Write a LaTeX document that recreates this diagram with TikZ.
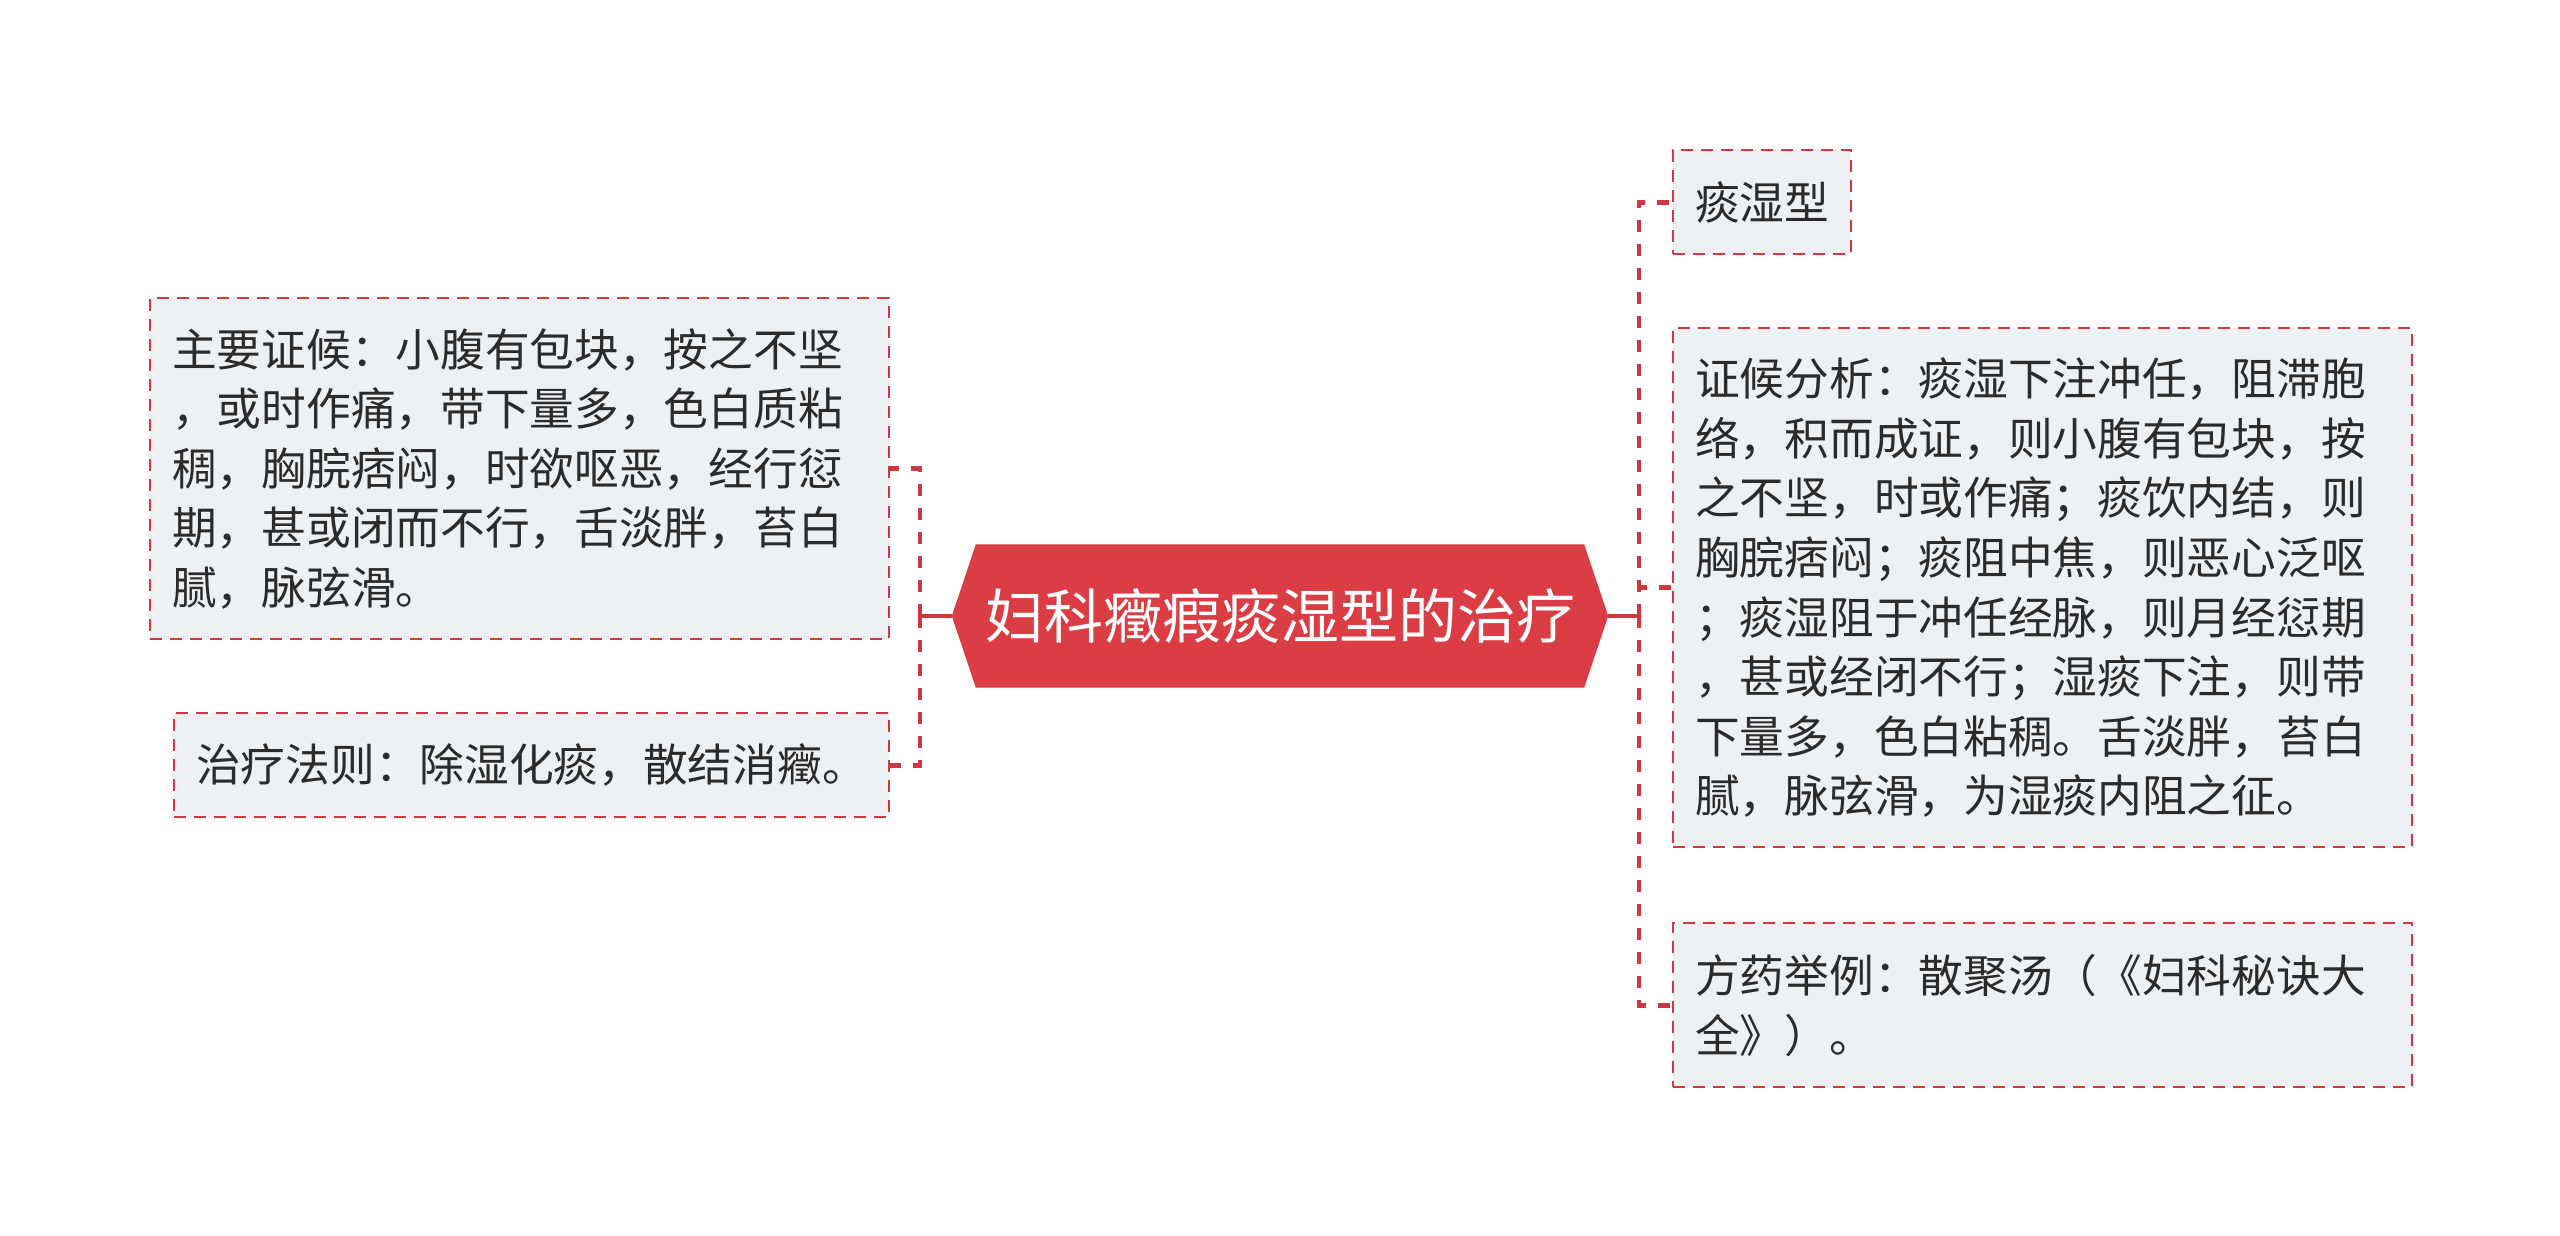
\documentclass[tikz,border=0pt]{standalone}
\usepackage{fontspec}
\newfontfamily\cjk{Noto Sans CJK SC}
\usetikzlibrary{calc}
\definecolor{mainred}{HTML}{DB3D45}
\definecolor{dashred}{HTML}{D0373F}
\definecolor{boxfill}{HTML}{EEF1F4}
\definecolor{txt}{HTML}{2B2B2B}
\begin{document}
\begin{tikzpicture}[x=1pt,y=-1pt,
  leaf/.style={draw=dashred, line width=2.4pt, dash pattern=on 12pt off 8pt, fill=boxfill,
    text=txt, font=\cjk\fontsize{44.7}{59.6}\selectfont, align=left,
    inner xsep=22pt, inner ysep=0pt, anchor=north west},
  link/.style={draw=dashred, line width=4.6pt, dash pattern=on 12pt off 12pt},
  solidlink/.style={draw=dashred, line width=4.6pt}]
\useasboundingbox (0,0) rectangle (2560,1235);

% central node
\node[text=white, font=\cjk\fontsize{59}{70}\selectfont, minimum width=656pt, minimum height=143pt, inner sep=0pt] (c) at (1280,616) {妇科癥瘕痰湿型的治疗};
\fill[mainred] (c.west) -- ($(c.north west)+(24,0)$) -- ($(c.north east)+(-24,0)$) -- (c.east) -- ($(c.south east)+(-24,0)$) -- ($(c.south west)+(24,0)$) -- cycle;
\node[text=white, font=\cjk\fontsize{59}{70}\selectfont, inner sep=0pt] (ct) at (c.center) {妇科癥瘕痰湿型的治疗};

% left nodes
\node[leaf, text width=695pt, minimum height=341pt] (l1) at (149,297) {主要证候：小腹有包块，按之不坚\\，或时作痛，带下量多，色白质粘\\稠，胸脘痞闷，时欲呕恶，经行愆\\期，甚或闭而不行，舌淡胖，苔白\\腻，脉弦滑。};
\node[leaf, text width=671pt, minimum height=104pt] (l2) at (173,712) {治疗法则：除湿化痰，散结消癥。};

% right nodes
\node[leaf, text width=134pt, minimum height=104pt] (r1) at (1672,149) {痰湿型};
\node[leaf, text width=695pt, minimum height=519pt] (r2) at (1672,327) {证候分析：痰湿下注冲任，阻滞胞\\络，积而成证，则小腹有包块，按\\之不坚，时或作痛；痰饮内结，则\\胸脘痞闷；痰阻中焦，则恶心泛呕\\；痰湿阻于冲任经脉，则月经愆期\\，甚或经闭不行；湿痰下注，则带\\下量多，色白粘稠。舌淡胖，苔白\\腻，脉弦滑，为湿痰内阻之征。};
\node[leaf, text width=695pt, minimum height=164pt] (r3) at (1672,922) {方药举例：散聚汤（《妇科秘诀大\\全》）。};

% connectors
\coordinate (lj) at (920,616);
\coordinate (rj) at (1639,616);
\draw[solidlink] (c.west) -- (lj);
\draw[link] (lj) |- (l1.east);
\draw[link] (lj) |- (l2.east);
\draw[solidlink] (c.east) -- (rj);
\draw[link] (rj) |- (r1.west);
\draw[link] (rj) |- (r2.west);
\draw[link] (rj) |- (r3.west);
\end{tikzpicture}
\end{document}
